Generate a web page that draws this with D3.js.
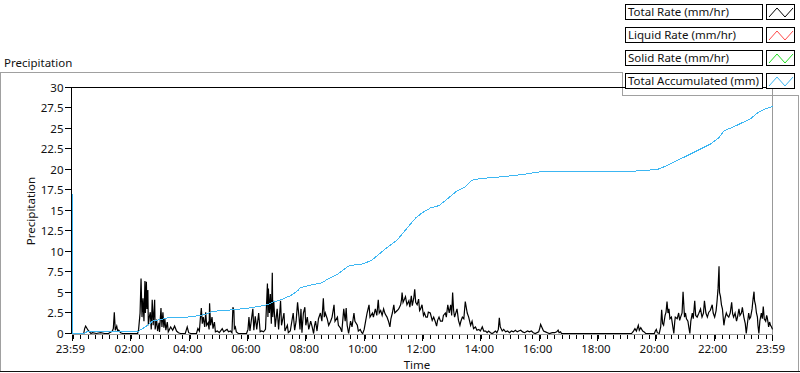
<!DOCTYPE html>
<html>
<head>
    <meta charset="UTF-8">
    <title>Precipitation</title>
    <style>
        body { margin: 0; background: #fff; }
        svg { display: block; font-family: "Noto Sans", sans-serif; font-size: 11.5px; }
    </style>
</head>
<body>
    <svg width="800" height="373"></svg>
    <script src="https://d3js.org/d3.v7.min.js"></script>
    <script>
        // time = minutes after 23:59 of the previous day, value = mm/hr
        let totalRate = [
            [0,0],[23,0],[25,0.6],[27,0.9],[29,0.7],[32,0.4],[35,0.2],[38,0],[41,0.1],[49,0],[58,0.1],[66,0],[74,0],
            [82,0.3],[84,0.6],[86,2.6],[88,0.4],[91,0.9],[93,0.3],[95,0.4],[99,0.1],[103,0],[119,0],[134,0],
            [136,0.5],[139,2.5],[141,6.7],[143,2.0],[145,4.3],[147,1.5],[149,6.4],[150,2.5],[152,6.3],[153,3.0],
            [155,5.3],[156,1.0],[158,2.0],[160,2.6],[162,0.5],[164,4.1],[166,1.0],[167,2.0],[169,4.1],[170,0.5],
            [173,1.7],[175,0.3],[178,1.3],[179,0.2],[182,3.1],[184,0.8],[186,2.6],[188,0.7],[190,1.8],[192,0.4],
            [195,1.4],[197,0.2],[202,0.8],[206,0.4],[210,0.9],[214,0.3],[218,0.1],[222,0],[232,0],[236,0.8],
            [239,0.1],[243,0],[255,0],[258,0.6],[261,0.3],[263,1.8],[265,3.1],[267,1.2],[269,2.0],[272,0.8],
            [274,2.6],[276,1.0],[279,1.3],[281,0.5],[282,3.7],[284,1.0],[287,2.0],[289,0.6],[292,1.4],[294,0.2],
            [298,0.3],[302,0.1],[308,0.6],[311,0.2],[315,0.4],[318,0.5],[321,0.2],[325,0.3],[328,0.1],[330,3.2],
            [332,2.8],[333,0.6],[335,0.8],[337,0.2],[341,0],[358,0],[361,0.5],[363,2.0],[365,0.3],[367,1.2],
            [371,3.0],[373,0.4],[376,2.1],[379,0.5],[383,2.5],[386,0.2],[389,0.3],[393,0.2],[397,0.5],[401,6.1],
            [402,2.0],[403,5.5],[405,2.5],[407,4.8],[409,1.2],[411,7.4],[412,2.0],[414,4.0],[417,0.8],[421,3.0],
            [424,0.5],[428,4.0],[430,1.0],[435,2.5],[437,0.3],[442,1.0],[444,0.1],[448,0.3],[454,2.5],[457,0.4],
            [460,1.5],[463,3.8],[466,2.0],[468,0.5],[470,3.0],[472,0.1],[475,2.5],[478,3.2],[480,1.0],[483,2.0],
            [486,0.5],[490,1.5],[493,0.8],[496,0],[498,1.0],[500,1.5],[503,0.3],[506,1.8],[510,2.5],[513,1.5],
            [516,4.3],[518,2.0],[520,2.5],[524,1.8],[527,1.0],[531,1.5],[534,2.0],[538,3.5],[540,1.5],[545,2.0],
            [547,1.0],[551,0.7],[554,0.2],[558,3.0],[561,1.5],[563,3.1],[565,1.0],[568,0],[572,1.5],[575,0.8],
            [579,2.5],[581,1.5],[586,1.0],[588,0.3],[592,0.5],[595,0.1],[597,0],[600,0.5],[603,1.5],[606,2.5],
            [610,3.5],[612,2.0],[617,2.5],[619,2.0],[623,3.0],[626,2.2],[629,4.1],[631,2.5],[634,2.8],[637,2.2],
            [640,3.0],[643,2.4],[647,2.0],[650,1.5],[653,0.8],[655,1.8],[658,2.5],[661,3.5],[663,2.5],[668,2.8],
            [671,3.0],[675,3.5],[677,4.2],[678,5.0],[680,3.8],[683,4.2],[685,4.5],[688,3.5],[692,4.0],[694,3.2],
            [697,4.6],[699,3.4],[702,4.3],[704,5.4],[706,3.8],[709,3.5],[712,4.2],[714,2.8],[716,3.0],[719,3.5],
            [722,2.2],[724,2.5],[727,2.0],[730,2.0],[732,2.6],[736,2.5],[740,1.6],[743,2.0],[746,1.5],[749,0.9],
            [751,1.6],[754,2.0],[757,1.5],[761,1.5],[763,2.2],[767,2.5],[769,2.0],[772,3.5],[775,2.5],[778,3.5],
            [780,2.2],[782,5.0],[784,2.8],[786,2.0],[789,2.6],[791,3.0],[794,1.6],[797,1.0],[799,1.5],[802,2.0],
            [805,1.8],[808,3.9],[812,2.5],[815,2.0],[819,1.0],[822,1.5],[825,0.6],[829,0.8],[832,0.4],[836,0.5],
            [839,0.3],[843,0.8],[846,0.3],[850,0.3],[853,0.1],[856,0.3],[860,0.1],[863,0],[866,0.1],[870,0.3],
            [873,0.1],[876,0.5],[878,1.9],[880,0.8],[884,0.3],[887,0.5],[891,0.2],[895,0.3],[899,0.1],[903,0.3],
            [907,0.2],[911,0.4],[915,0.2],[918,0.3],[922,0.4],[926,0.2],[930,0.1],[936,0.3],[940,0.2],[944,0.3],
            [948,0.1],[952,0],[959,0.2],[961,0.6],[963,1.1],[966,0.7],[969,0.3],[973,0.2],[977,0.1],[981,0],
            [987,0.1],[992,0.1],[996,0.2],[999,0.4],[1001,0.1],[1004,0.2],[1006,0],[1150,0],[1154,0.3],[1157,0.6],
            [1160,0.3],[1164,1.0],[1166,0.4],[1169,0.7],[1173,0.3],[1176,0.2],[1179,0],[1197,0],[1199,0.3],
            [1201,0.5],[1203,0.1],[1207,0],[1210,0.8],[1212,2.9],[1214,1.2],[1216,1.0],[1219,2.2],[1221,2.6],
            [1223,3.9],[1225,2.5],[1227,3.0],[1229,1.8],[1232,2.0],[1234,1.2],[1237,0],[1239,1.5],[1240,2.0],
            [1244,1.8],[1247,2.5],[1249,1.6],[1251,2.0],[1254,2.5],[1256,5.1],[1259,2.0],[1261,2.5],[1263,1.8],
            [1266,1.5],[1268,0.7],[1270,0],[1272,1.5],[1275,2.5],[1277,1.8],[1280,4.0],[1282,2.2],[1285,2.0],
            [1288,2.4],[1292,3.0],[1294,2.3],[1295,2.0],[1298,2.5],[1300,4.0],[1303,2.5],[1306,2.0],[1309,2.6],
            [1312,2.8],[1316,3.5],[1318,2.5],[1321,2.0],[1324,2.8],[1326,4.0],[1328,5.5],[1330,8.2],[1331,5.0],
            [1333,4.5],[1335,3.5],[1337,3.0],[1340,1.0],[1342,1.8],[1345,2.5],[1347,2.2],[1350,2.0],[1353,2.5],
            [1356,3.8],[1358,2.4],[1360,2.0],[1363,2.5],[1366,1.5],[1368,2.0],[1371,3.0],[1373,2.2],[1376,2.5],
            [1378,3.2],[1381,2.0],[1384,1.2],[1386,0],[1389,1.5],[1391,2.5],[1393,1.8],[1395,2.0],[1398,3.0],
            [1400,4.2],[1402,5.1],[1403,4.0],[1405,3.5],[1407,2.5],[1409,2.0],[1410,1.0],[1412,0],[1414,1.5],
            [1417,2.5],[1419,1.8],[1421,3.3],[1423,1.8],[1426,1.5],[1428,2.2],[1429,2.0],[1431,1.3],[1432,0.8],
            [1434,1.4],[1436,1.0],[1438,0.8],[1440,0.5]
        ];

        // accumulated precipitation, mm
        let totalAccum = [
            [0,17.0],[1,0.0],[25,0.0],[29,0.2],[84,0.2],[88,0.3],[136,0.3],[147,0.7],[157,1.1],[164,1.5],
            [171,1.6],[181,1.7],[195,1.9],[236,2.0],[263,2.2],[277,2.4],[287,2.7],[332,2.9],[363,3.1],[401,3.5],
            [411,3.8],[428,4.1],[448,4.6],[463,5.2],[469,5.6],[490,5.9],[514,6.2],[524,6.6],[545,7.2],[565,8.1],
            [572,8.3],[599,8.5],[617,9.0],[637,10.0],[654,10.8],[668,11.4],[682,12.4],[706,14.1],[719,14.7],
            [736,15.3],[754,15.6],[771,16.4],[791,17.4],[808,17.9],[822,18.7],[839,18.9],[880,19.1],[928,19.4],
            [970,19.8],[1155,19.8],[1179,19.9],[1203,20.0],[1220,20.4],[1237,20.9],[1258,21.5],[1285,22.3],
            [1312,23.1],[1330,23.9],[1340,24.7],[1367,25.4],[1395,26.2],[1409,26.9],[1426,27.4],[1440,27.7]
        ];

        let yTicks = [0, 2.5, 5, 7.5, 10, 12.5, 15, 17.5, 20, 22.5, 25, 27.5, 30];
        let legendNames = ["Total Rate (mm/hr)", "Liquid Rate (mm/hr)", "Solid Rate (mm/hr)", "Total Accumulated (mm)"];
        let legendColors = ["#000000", "#ff4a4a", "#22dd22", "#3cb6f2"];

        let svg = d3.select("svg");
        let start = new Date(2000, 0, 1, 23, 59);
        let end = d3.timeMinute.offset(start, 1440);
        let t = m => d3.timeMinute.offset(start, m);

        let x = d3.scaleTime().domain([start, end]).range([72.5, 772.5]);
        let y = d3.scaleLinear().domain([0, 30]).range([333.5, 87.5]);

        // widget frame
        svg.append("path")
            .attr("d", "M0,72.5H622.5V95.5H798.5V371M0.5,72.5V371")
            .attr("fill", "none").attr("stroke", "#a0a0a0").attr("shape-rendering", "crispEdges");
        svg.append("line").attr("x1", 0).attr("x2", 800).attr("y1", 371.5).attr("y2", 371.5)
            .attr("stroke", "#111").attr("shape-rendering", "crispEdges");

        svg.append("text").attr("x", 4).attr("y", 67).attr("fill", "#111").text("Precipitation");

        // plot borders
        svg.append("path").attr("d", "M71.5,334V87.5H772.5")
            .attr("fill", "none").attr("stroke", "#000").attr("shape-rendering", "crispEdges");
        svg.append("path").attr("d", "M772.5,87.5V334.5H71.5")
            .attr("fill", "none").attr("stroke", "#999").attr("shape-rendering", "crispEdges");

        // y axis
        let yAxis = svg.append("g");
        yAxis.selectAll("line").data(yTicks).enter().append("line")
            .attr("x1", 65).attr("x2", 71)
            .attr("y1", d => Math.round(y(d)) - 0.5).attr("y2", d => Math.round(y(d)) - 0.5)
            .attr("stroke", "#000").attr("shape-rendering", "crispEdges");
        yAxis.selectAll("text").data(yTicks).enter().append("text")
            .attr("x", 63.5).attr("y", d => y(d)).attr("dy", "0.35em")
            .attr("text-anchor", "end").attr("fill", "#111")
            .text(d => d);

        // x axis
        let majors = [start].concat(d3.timeHour.every(2).range(start, end).filter(d => d.getHours() !== 0)).concat([end]);
        let minors = d3.timeMinute.every(15).range(start, end);
        let xAxis = svg.append("g");
        xAxis.selectAll(".minor").data(minors).enter().append("line")
            .attr("x1", d => Math.round(x(d)) + 0.5).attr("x2", d => Math.round(x(d)) + 0.5)
            .attr("y1", 335).attr("y2", 339)
            .attr("stroke", "#000").attr("shape-rendering", "crispEdges");
        xAxis.selectAll(".major").data(majors).enter().append("line")
            .attr("x1", d => Math.round(x(d)) - 0.5).attr("x2", d => Math.round(x(d)) - 0.5)
            .attr("y1", 335).attr("y2", 341)
            .attr("stroke", "#000").attr("shape-rendering", "crispEdges");
        xAxis.selectAll("text").data(majors).enter().append("text")
            .attr("x", d => x(d) - 2).attr("y", 353)
            .attr("text-anchor", "middle").attr("fill", "#111")
            .text(d3.timeFormat("%H:%M"));

        svg.append("text").attr("x", 417).attr("y", 369).attr("text-anchor", "middle")
            .attr("fill", "#111").text("Time");
        svg.append("text").attr("transform", "translate(35,211) rotate(-90)").attr("text-anchor", "middle")
            .attr("fill", "#111").text("Precipitation");

        // series
        let line = d3.line().x(d => x(t(d[0]))).y(d => y(d[1]));
        svg.append("path").datum(totalRate).attr("d", line)
            .attr("fill", "none").attr("stroke", legendColors[0]).attr("stroke-width", 1.2);
        svg.append("path").datum(totalAccum).attr("d", line)
            .attr("fill", "none").attr("stroke", legendColors[3]).attr("stroke-width", 1)
            .attr("shape-rendering", "crispEdges");

        // legend
        let legend = svg.append("g").selectAll("g").data(legendNames).enter().append("g")
            .attr("transform", (d, i) => `translate(0, ${4 + i * 23})`);
        legend.append("rect").attr("x", 625.5).attr("y", 0.5).attr("width", 137).attr("height", 15)
            .attr("fill", "#fff").attr("stroke", "#000").attr("shape-rendering", "crispEdges");
        legend.append("text").attr("x", 628).attr("y", 12).attr("fill", "#111").text(d => d);
        legend.append("rect").attr("x", 766.5).attr("y", 0.5).attr("width", 28).attr("height", 15)
            .attr("fill", "#fff").attr("stroke", "#000").attr("shape-rendering", "crispEdges");
        legend.append("path").attr("d", "M769,13L777,4L785,13L793,4")
            .attr("fill", "none").attr("stroke", (d, i) => legendColors[i]);
    </script>
</body>
</html>
